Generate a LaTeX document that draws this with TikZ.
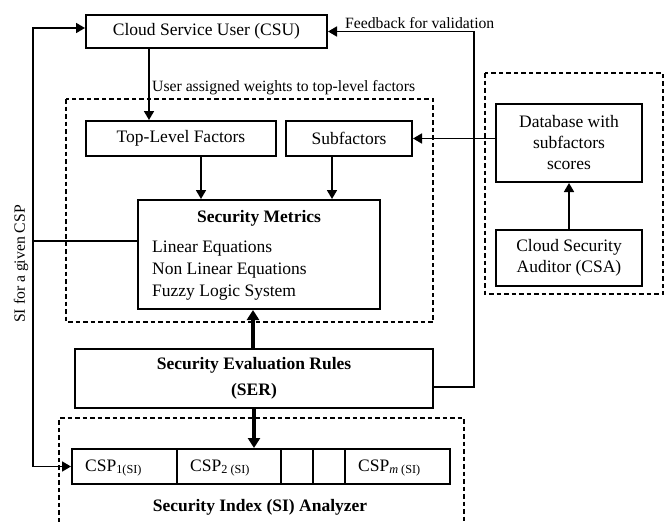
\documentclass[tikz,border=0pt]{standalone}
\usepackage{fontspec}
\setmainfont{Liberation Serif}
\usetikzlibrary{arrows.meta}

\begin{document}
\begin{tikzpicture}[x=1pt,y=-1pt,
  box/.style={draw, line width=2pt, inner sep=0pt, align=center,
              font=\fontsize{17.5}{21}\selectfont},
  txt/.style={inner sep=0pt, font=\fontsize{17.5}{21}\selectfont},
  lbl/.style={inner sep=0pt, font=\fontsize{15.7}{18}\selectfont},
  arr/.style={line width=1.7pt, -{Triangle[length=9pt,width=10pt]}},
  heavyarr/.style={line width=4pt, -{Triangle[length=10pt,width=12pt]}},
  wire/.style={line width=1.7pt},
  dashbox/.style={line width=1.5pt, dash pattern=on 4.5pt off 3pt},
]
\useasboundingbox (0,0) rectangle (667,522);

% dashed groupings
\draw[dashbox] (66,99) rectangle (433,322);
\draw[dashbox] (485,73) rectangle (663,294);
\draw[dashbox] (59,522) -- (59,418) -- (464,418) -- (464,522);

% boxes
\node[box, minimum width=241pt, minimum height=33pt] (csu) at (206.5,31.5) {Cloud Service User (CSU)};
\node[box, minimum width=190pt, minimum height=35pt] (tlf) at (181,138.5) {Top-Level Factors};
\node[box, minimum width=126pt, minimum height=35pt] (sub) at (349,138.5) {Subfactors};
\node[box, minimum width=242pt, minimum height=109pt] (sm) at (259,254.5) {};
\node[txt, font=\fontsize{17.5}{21}\selectfont\bfseries] (smt) at (259,218) {Security Metrics};
\node[txt, anchor=west] (sm1) at (152,249) {Linear Equations};
\node[txt, anchor=west] (sm2) at (152,271) {Non Linear Equations};
\node[txt, anchor=west] (sm3) at (152,293) {Fuzzy Logic System};
\node[box, minimum width=358pt, minimum height=59pt,
      font=\fontsize{17.5}{26}\selectfont\bfseries] (ser) at (254,378.5)
      {Security Evaluation Rules\\(SER)};
\node[box, minimum width=146pt, minimum height=78pt,
      font=\fontsize{17.5}{21}\selectfont] (db) at (569,143)
      {Database with\\subfactors\\scores};
\node[box, minimum width=146pt, minimum height=56pt,
      font=\fontsize{17.5}{21}\selectfont] (csa) at (569,258)
      {Cloud Security\\Auditor (CSA)};

% CSP row
\node[box, minimum width=105pt, minimum height=35pt] (csp1) at (124.5,466.5) {};
\node[box, minimum width=104pt, minimum height=35pt] (csp2) at (229,466.5) {};
\node[box, minimum width=32pt, minimum height=35pt] (csp3) at (297,466.5) {};
\node[box, minimum width=32pt, minimum height=35pt] (csp4) at (329,466.5) {};
\node[box, minimum width=105pt, minimum height=35pt] (cspm) at (397.5,466.5) {};
\node[txt, anchor=west] (t1) at (85,468) {CSP\textsubscript{1(SI)}};
\node[txt, anchor=west] (t2) at (190,468) {CSP\textsubscript{2 (SI)}};
\node[txt, anchor=west] (tm) at (358,468) {CSP\textsubscript{\itshape m\upshape\ (SI)}};
\node[txt, font=\fontsize{17.5}{21}\selectfont\bfseries] (sia) at (260,507) {Security Index (SI) Analyzer};

% labels
\node[lbl, anchor=west] (fbl) at (345,23) {Feedback for validation};
\node[lbl, anchor=west] (uwl) at (152,88) {User assigned weights to top-level factors};
\node[lbl, rotate=90] (sil) at (21,264) {SI for a given CSP};

% helper points
\coordinate (xa) at (149,0);
\coordinate (xb) at (201,0);
\coordinate (xc) at (332,0);
\coordinate (xd) at (253,0);
\coordinate (ya) at (0,28);
\coordinate (j) at (33,241);
\coordinate (fb) at (474,387);

% connectors
\draw[arr] (csu.south -| xa) -- (tlf.north -| xa);
\draw[arr] (tlf.south -| xb) -- (sm.north -| xb);
\draw[arr] (sub.south -| xc) -- (sm.north -| xc);
\draw[arr] (db.west |- sub.east) -- (sub.east);
\draw[arr] (csa.north) -- (db.south);
\draw[heavyarr] (ser.north -| xd) -- (sm.south -| xd);
\draw[heavyarr] (ser.south) -- (csp2.north -| ser.south);
\draw[wire] (sm.west |- j) -- (j);
\draw[arr] (j) |- (csu.west |- ya);
\draw[arr] (j) |- (csp1.west);
\draw[arr] (ser.east |- fb) -- (fb) |- (csu.east);
\end{tikzpicture}
\end{document}
